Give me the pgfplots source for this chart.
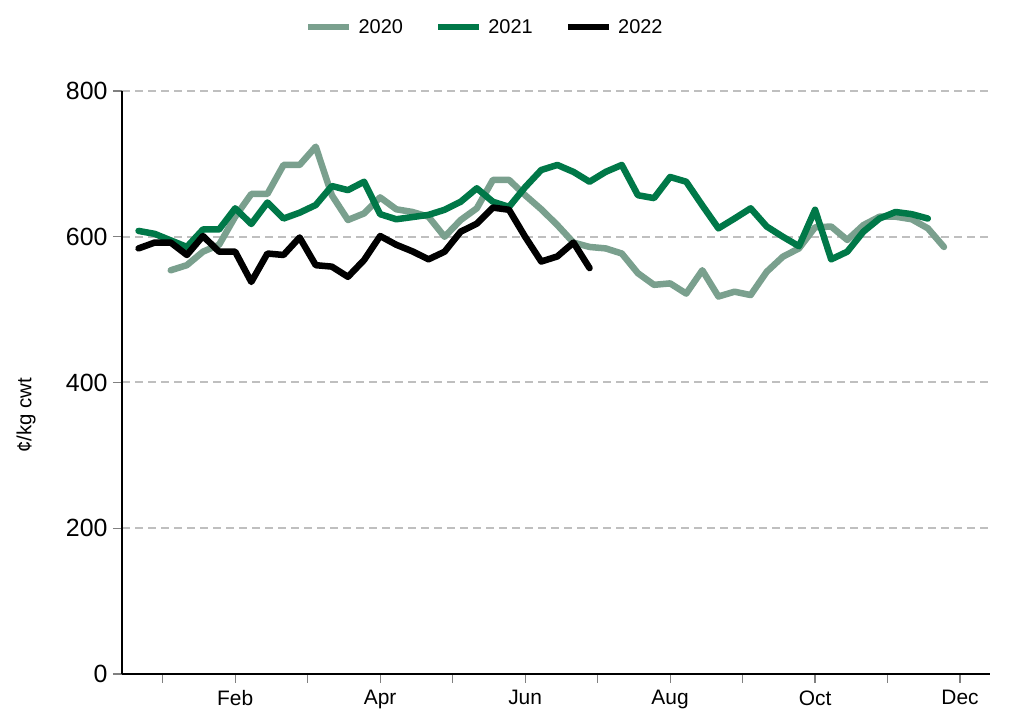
\documentclass[border=0pt]{standalone}
\usepackage{pgfplots}
\pgfplotsset{compat=1.18}
\usepackage{pgfplotstable}
\usepackage{fontspec}
\setmainfont{Liberation Sans}
\definecolor{c2020}{RGB}{122,160,142}
\definecolor{c2021}{RGB}{0,120,72}
\definecolor{gridc}{RGB}{191,191,191}

\pgfplotstableread{
n v
2 554
3 561
4 579.5
5 589
6 627.5
7 658.7
8 658.7
9 698.5
10 698.5
11 723.6
12 657
13 623
14 632
15 654
16 637.7
17 634
18 627.5
19 600
20 623
21 639
22 678
23 678
24 657
25 637.7
26 616
27 592
28 586
29 584
30 577
31 550
32 534
33 536
34 522
35 554
36 518
37 524.6
38 520
39 552
40 572.6
41 584
42 613
43 614
44 595.6
45 616
46 627.5
47 627.5
48 624
49 611.6
50 586
}\dataA

\pgfplotstableread{
n v
0 608
1 604
2 595
3 586
4 610
5 610
6 639
7 617.5
8 647
9 625
10 633
11 643.5
12 669.6
13 664
14 675.5
15 631
16 624
17 627
18 630
19 637
20 648
21 666.5
22 648
23 641
24 668
25 691.6
26 698.5
27 689
28 675.5
29 689
30 698.5
31 657
32 653
33 682
34 675.5
35 643
36 611.5
37 625
38 639
39 614
40 600
41 587
42 637
43 569
44 579.5
45 607
46 625
47 634
48 631
49 625
}\dataB

\pgfplotstableread{
n v
0 584
1 592
2 592
3 575
4 601
5 579.5
6 579.5
7 538
8 577
9 575
10 599
11 561
12 559
13 545
14 568
15 601
16 589
17 580
18 569
19 579.5
20 607
21 618
22 640
23 637
24 600
25 566
26 573
27 592
28 557
}\dataC

\begin{document}
\begin{tikzpicture}
\useasboundingbox (0,0) rectangle (1009bp,711bp);
\begin{axis}[
  at={(122bp,37bp)}, anchor=south west,
  scale only axis,
  width=868bp, height=583bp,
  xmin=-1.027, xmax=52.86,
  ymin=0, ymax=800,
  axis x line*=bottom, axis y line*=left,
  axis line style={line width=2.5bp, -},
  xtick={1.5,6,10.5,15,19.5,24,28.5,33,37.5,42,46.5,51},
  xticklabels={,Feb,,Apr,,Jun,,Aug,,Oct,,Dec},
  ytick={0,200,400,600,800},
  tick align=outside,
  major tick length=9bp,
  tick style={color=gray, line width=1.2bp},
  ymajorgrids,
  major grid style={color=gridc, line width=2bp, dash pattern=on 8bp off 5bp},
  /pgf/number format/assume math mode=true,
  xticklabel style={font=\fontsize{21}{25}\selectfont, yshift=-4bp},
  yticklabel style={font=\fontsize{25}{30}\selectfont, xshift=-2bp},
  ylabel={¢/kg cwt},
  ylabel style={font=\fontsize{20.5}{24}\selectfont, at={(rel axis cs:0,0.5)}, xshift=-33bp, yshift=96bp, anchor=center},
  legend style={at={(0.418,1.11)}, anchor=center, draw=none, fill=none,
    legend columns=3, font=\fontsize{20}{24}\selectfont,
    /tikz/every odd column/.append style={column sep=4bp},
    /tikz/every even column/.append style={column sep=30bp}},
  legend image code/.code={\draw[#1, line width=6.5bp, line cap=butt] (0bp,0bp) -- (41bp,0bp);},
  every axis plot/.append style={line width=6.5bp, line join=round, line cap=round},
]
\addplot[c2020, mark=none] table[x=n, y=v] {\dataA};
\addlegendentry{2020}
\addplot[c2021, mark=none] table[x=n, y=v] {\dataB};
\addlegendentry{2021}
\addplot[black, mark=none] table[x=n, y=v] {\dataC};
\addlegendentry{2022}
\end{axis}
\end{tikzpicture}
\end{document}
